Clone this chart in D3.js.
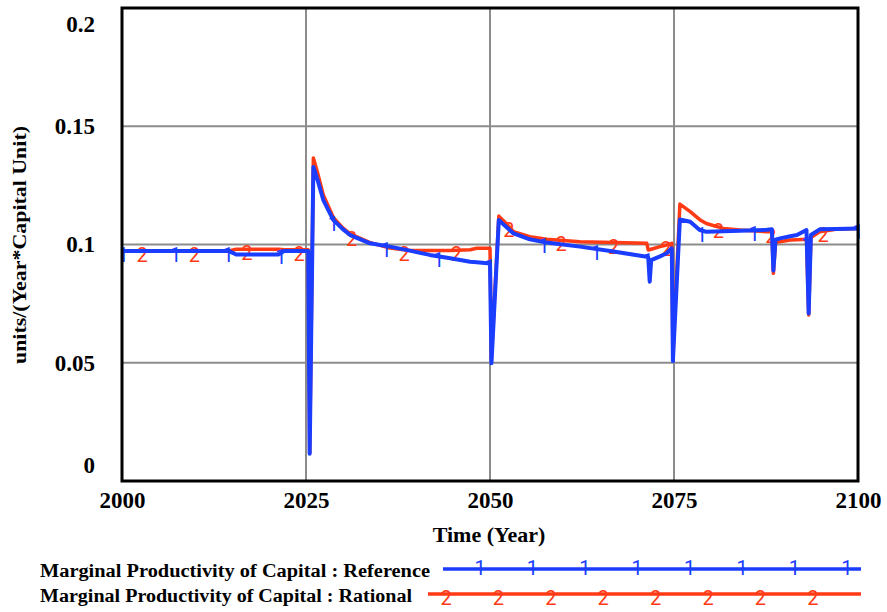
<!DOCTYPE html>
<html><head><meta charset="utf-8">
<script src="https://cdn.jsdelivr.net/npm/d3@7"></script>
<style>
body{margin:0;background:#fff;}
</style></head>
<body><svg id="c" width="887" height="612"></svg>
<script>
// ---- data ----
const years = [2000,2013,2014.5,2015.5,2021.3,2022,2025.3,2025.5,2026.0,2026.6,2027.35,2028.7,2030,2031,2033.7,2036.4,2039.1,2041.8,2044.6,2047.3,2048.2,2050.0,2050.2,2051.2,2052,2053.2,2055.4,2057.7,2062.2,2066.8,2071.3,2071.5,2071.7,2071.9,2073.1,2074,2074.7,2074.85,2075.8,2077.2,2078.5,2079.4,2081.7,2084,2087.6,2088.3,2088.5,2088.8,2089.4,2090.8,2091.7,2093.0,2093.3,2093.6,2094.8,2097,2100];
const reference = [0.0973,0.0973,0.0973,0.0958,0.0958,0.0972,0.0972,0.0115,0.1328,0.127,0.1188,0.1104,0.1065,0.104,0.1005,0.0991,0.0974,0.0956,0.0942,0.0927,0.0925,0.0920,0.0498,0.1104,0.108,0.1047,0.1022,0.1008,0.0991,0.0970,0.0948,0.0946,0.0843,0.0934,0.0950,0.0963,0.0984,0.0507,0.1106,0.1096,0.1061,0.1054,0.1056,0.1058,0.1062,0.1064,0.0890,0.1020,0.1026,0.1035,0.1040,0.1061,0.0709,0.1040,0.1064,0.1066,0.1068];
const rational  = [0.0971,0.0971,0.0973,0.0980,0.0980,0.0978,0.0978,0.0118,0.1366,0.130,0.121,0.1115,0.107,0.1045,0.1008,0.0985,0.0975,0.0975,0.0975,0.0978,0.0984,0.0984,0.0520,0.1120,0.1095,0.1054,0.1033,0.1022,0.1012,0.1008,0.1005,0.0977,0.0978,0.0980,0.0991,0.0998,0.1005,0.0530,0.1171,0.1139,0.1105,0.1089,0.1068,0.1061,0.1054,0.1054,0.0878,0.1010,0.1012,0.1019,0.1020,0.1022,0.0702,0.1030,0.1054,0.1064,0.1068];
const refMarkerYears = [2000.14,2007.28,2014.43,2021.58,2028.72,2035.87,2043.02,2050.0,2057.31,2064.46,2071.45,2078.75,2085.9,2093.04,2100];
const ratMarkerYears = [2002.72,2009.84,2016.96,2024.08,2031.2,2038.32,2045.43,2052.55,2059.67,2066.79,2073.91,2081.03,2088.15,2095.27];
const xTicks = [2000,2025,2050,2075,2100];
const yTicks = [0,0.05,0.1,0.15,0.2];
const yTickLabels = ["0","0.05","0.1","0.15","0.2"];
const seriesNames = ["Marginal Productivity of Capital : Reference","Marginal Productivity of Capital : Rational"];
const seriesMarks = ["1","2"];
const colors = ["#1a3dff","#ff3a14"];

const SERIF = "Liberation Serif, Times New Roman, serif";
const MARK = "Roboto, Open Sans, sans-serif";

// ---- layout ----
const L=122,R=858,T=8,B=481;
const svg=d3.select("#c");
const x=d3.scaleLinear().domain([2000,2100]).range([L,R]);
const y=d3.scaleLinear().domain([0,0.2]).range([B,T]);

// grid
svg.append("g").selectAll("line").data(xTicks.slice(1,-1)).join("line")
  .attr("x1",d=>x(d)).attr("x2",d=>x(d)).attr("y1",T).attr("y2",B)
  .attr("stroke","#8c8c8c").attr("stroke-width",2);
svg.append("g").selectAll("line").data(yTicks.slice(1,-1)).join("line")
  .attr("y1",d=>y(d)).attr("y2",d=>y(d)).attr("x1",L).attr("x2",R)
  .attr("stroke","#8c8c8c").attr("stroke-width",2);

// axes labels
const yAxis=svg.append("g").attr("transform",`translate(${L-24},0)`)
  .call(d3.axisLeft(y).tickValues(yTicks).tickSize(0).tickFormat((d,i)=>yTickLabels[i]));
yAxis.select(".domain").remove();
yAxis.attr("font-family",SERIF).attr("font-size",23).attr("font-weight","bold");
yAxis.selectAll("text").attr("fill","#000")
  .attr("dy",(d)=> d===0.2? "1.0em" : d===0 ? "-0.38em" : "0.32em");
const xAxis=svg.append("g").attr("transform",`translate(0,${B+6})`)
  .call(d3.axisBottom(x).tickValues(xTicks).tickSize(0).tickFormat(d3.format("d")));
xAxis.select(".domain").remove();
xAxis.attr("font-family",SERIF).attr("font-size",23).attr("font-weight","bold");
xAxis.selectAll("text").attr("fill","#000").attr("dy","0.78em");

svg.append("text").attr("font-family",SERIF).attr("x",489).attr("y",542).attr("text-anchor","middle")
  .attr("font-weight","bold").attr("font-size",22).text("Time (Year)");
svg.append("text").attr("font-family",SERIF).attr("transform","translate(26,245) rotate(-90)").attr("text-anchor","middle")
  .attr("font-weight","bold").attr("font-size",19).attr("textLength",238).attr("lengthAdjust","spacingAndGlyphs").text("units/(Year*Capital Unit)");

// lines
const series=[reference,rational];
const line=d3.line().x(d=>x(d[0])).y(d=>y(d[1]));
svg.append("clipPath").attr("id","pc").append("rect").attr("x",L).attr("y",T-2).attr("width",R-L+2).attr("height",B-T+4);
const plot=svg.append("g").attr("clip-path","url(#pc)");
function interp(vals,t){const i=d3.bisectLeft(years,t);if(i<=0)return vals[0];if(i>=years.length)return vals[vals.length-1];const t0=years[i-1],t1=years[i];return vals[i-1]+(vals[i]-vals[i-1])*(t-t0)/(t1-t0);}
[1,0].forEach(s=>{
  const pts=years.map((t,i)=>[t,series[s][i]]);
  plot.append("path").attr("d",line(pts)).attr("fill","none").attr("stroke",colors[s]).attr("stroke-width",s===0?4:3.5).attr("stroke-linejoin","round");
  const my=s===0?refMarkerYears:ratMarkerYears;
  plot.append("g").selectAll("text").data(my).join("text").attr("font-family",MARK).attr("font-weight",400)
    .attr("x",d=>x(d)).attr("y",d=>y(interp(series[s],d))+11).attr("text-anchor","middle")
    .attr("font-size",20).attr("fill",colors[s]).text(seriesMarks[s]);
});

// frame
svg.append("rect").attr("x",L).attr("y",T).attr("width",R-L).attr("height",B-T).attr("fill","none").attr("stroke","#000").attr("stroke-width",3);

// legend
const legRows=[{ty:577,ly:569,lx0:443,m0:480},{ty:602,ly:594,lx0:428,m0:446}];
legRows.forEach((r,i)=>{
  svg.append("text").attr("font-family",SERIF).attr("x",40).attr("y",r.ty).attr("font-weight","bold").attr("font-size",18)
    .attr("textLength",i===0?390:372).attr("lengthAdjust","spacingAndGlyphs").text(seriesNames[i]);
  svg.append("line").attr("x1",r.lx0).attr("x2",861).attr("y1",r.ly).attr("y2",r.ly).attr("stroke",colors[i]).attr("stroke-width",3.5);
  svg.append("g").selectAll("text").data(d3.range(8)).join("text").attr("font-family",MARK).attr("font-weight",400)
    .attr("x",k=>r.m0+k*52.4).attr("y",r.ly+(i===0?6:11)).attr("text-anchor","middle")
    .attr("font-size",20).attr("fill",colors[i]).text(seriesMarks[i]);
});
</script></body></html>
